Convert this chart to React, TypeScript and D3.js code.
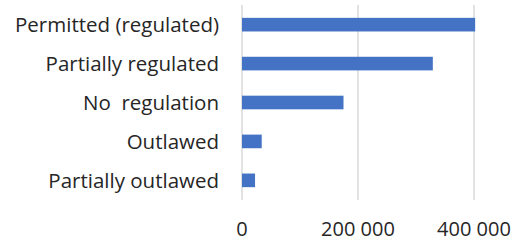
import React from 'react'
import * as d3 from 'd3'

const categories = ['Permitted (regulated)', 'Partially regulated', 'No  regulation', 'Outlawed', 'Partially outlawed']
const values = [402000, 329000, 175000, 34000, 22500]
const ticks = [0, 200000, 400000]

export default function App() {
  const width = 520
  const height = 242
  const margin = { top: 5, right: 46, bottom: 42, left: 242 }

  const x = d3.scaleLinear()
    .domain([0, 400000])
    .range([margin.left, width - margin.right])

  const y = d3.scaleBand<string>()
    .domain(categories)
    .range([margin.top, height - margin.bottom])
    .paddingInner(0.65)
    .paddingOuter(0.33)

  const fmt = (v: number) => d3.format(',')(v).replace(/,/g, ' ')

  return (
    <svg width={width} height={height} style={{ position: 'absolute', left: 0, top: 0 }}
      fontFamily="'Open Sans', sans-serif">
      {/* Gridlines */}
      {ticks.map(t => (
        <line key={t} x1={x(t)} x2={x(t)} y1={margin.top} y2={height - margin.bottom}
          stroke="#d9d9d9" strokeWidth={1.5} />
      ))}
      {/* Bars */}
      {categories.map((c, i) => (
        <rect key={c} x={x(0)} y={y(c)} width={x(values[i]) - x(0)} height={y.bandwidth()}
          fill="#4472c4" />
      ))}
      {/* Category labels */}
      {categories.map(c => (
        <text key={c} x={margin.left - 23} y={(y(c) ?? 0) + y.bandwidth() / 2} dy="0.37em"
          textAnchor="end" fontSize={20.5} fill="#262626" style={{ whiteSpace: 'pre' }}>{c}</text>
      ))}
      {/* Tick labels */}
      {ticks.map(t => (
        <text key={t} x={x(t)} y={236} textAnchor="middle" fontSize={20} fill="#262626">{fmt(t)}</text>
      ))}
    </svg>
  )
}
